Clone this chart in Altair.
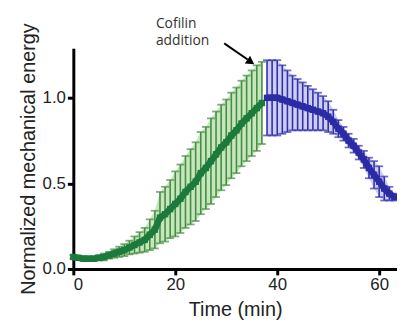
import altair as alt
import pandas as pd

# Before cofilin (green)
green_t = list(range(0, 38))
green_mean = [0.07, 0.065, 0.06, 0.06, 0.06, 0.065, 0.07, 0.08, 0.09, 0.10,
              0.11, 0.125, 0.14, 0.155, 0.17, 0.20, 0.23, 0.30, 0.32, 0.35,
              0.38, 0.41, 0.45, 0.48, 0.51, 0.56, 0.59, 0.63, 0.67, 0.71,
              0.74, 0.78, 0.81, 0.85, 0.88, 0.91, 0.94, 0.97]
green_sd = [0.01, 0.01, 0.01, 0.01, 0.01, 0.015, 0.02, 0.02, 0.025, 0.03,
            0.035, 0.04, 0.05, 0.06, 0.07, 0.09, 0.11, 0.15, 0.16, 0.17,
            0.19, 0.20, 0.21, 0.22, 0.23, 0.24, 0.24, 0.25, 0.25, 0.25,
            0.25, 0.25, 0.25, 0.25, 0.25, 0.25, 0.25, 0.24]

# After cofilin (blue)
blue_t = list(range(38, 64))
blue_mean = [1.0, 1.0, 1.0, 0.99, 0.98, 0.97, 0.96, 0.95, 0.94, 0.93,
             0.92, 0.91, 0.89, 0.86, 0.82, 0.79, 0.75, 0.72, 0.68, 0.64,
             0.59, 0.55, 0.51, 0.47, 0.44, 0.42]
blue_sd = [0.22, 0.22, 0.22, 0.20, 0.18, 0.16, 0.15, 0.14, 0.13, 0.12,
           0.11, 0.10, 0.09, 0.07, 0.05, 0.04, 0.04, 0.04, 0.04, 0.05,
           0.06, 0.08, 0.09, 0.07, 0.04, 0.02]

# Annotation
ann_text = [["Cofilin", "addition"]]
ann_x = [16.2]
ann_y = [1.41]
arrow_x = [29.6]
arrow_y = [1.318]
arrow_x2 = [34.2]
arrow_y2 = [1.224]
head_x = [34.6]
head_y = [1.214]

X_DOM = [0, 63.5]
Y_DOM = [0, 1.29]


def series(t, m, sd, line_col, bar_col, fill_col):
    df = pd.DataFrame({
        "t": t,
        "m": m,
        "lo": [a - b for a, b in zip(m, sd)],
        "hi": [a + b for a, b in zip(m, sd)],
    })
    base = alt.Chart(df)
    x = alt.X("t:Q", scale=alt.Scale(domain=X_DOM, nice=False, zero=False),
              axis=alt.Axis(values=[0, 20, 40, 60], title="Time (min)"))
    band = base.mark_area(color=fill_col, opacity=1).encode(
        x=x, y=alt.Y("lo:Q", scale=alt.Scale(domain=Y_DOM, nice=False),
                     axis=alt.Axis(values=[0, 0.5, 1.0], format=".1f",
                                   title="Normalized mechanical energy")),
        y2="hi:Q")
    rules = base.mark_rule(color=bar_col, strokeWidth=1.6).encode(
        x="t:Q", y="lo:Q", y2="hi:Q")
    cap_hi = base.mark_tick(color=bar_col, orient="horizontal", size=8,
                            thickness=1.8).encode(x="t:Q", y="hi:Q")
    cap_lo = base.mark_tick(color=bar_col, orient="horizontal", size=8,
                            thickness=1.8).encode(x="t:Q", y="lo:Q")
    line = base.mark_line(color=line_col, strokeWidth=6.5).encode(x="t:Q", y="m:Q")
    pts = base.mark_square(color=line_col, size=42, opacity=1).encode(
        x="t:Q", y="m:Q")
    return [band, rules, cap_hi, cap_lo, line, pts]


g_layers = series(green_t, green_mean, green_sd, "#1b7a3c", "#458c45", "#c6e6bc")
b_layers = series(blue_t, blue_mean, blue_sd, "#2b2ba6", "#2f2fb0", "#cdcdef")

ann_df = pd.DataFrame({"label": ann_text, "x": ann_x, "y": ann_y})
text = alt.Chart(ann_df).mark_text(
    align="left", baseline="alphabetic", font="Open Sans", fontSize=14,
    color="#333333", lineHeight=18, clip=False
).encode(x="x:Q", y="y:Q", text="label")

arr_df = pd.DataFrame({"x": arrow_x, "y": arrow_y, "x2": arrow_x2, "y2": arrow_y2})
arrow = alt.Chart(arr_df).mark_rule(color="black", strokeWidth=2, clip=False).encode(
    x="x:Q", y="y:Q", x2="x2:Q", y2="y2:Q")
head_df = pd.DataFrame({"x": head_x, "y": head_y})
head = alt.Chart(head_df).mark_point(
    shape="triangle", angle=124, size=90, filled=True, color="black",
    opacity=1, clip=False).encode(x="x:Q", y="y:Q")

chart = alt.layer(*g_layers, *b_layers, arrow, head, text).properties(
    width=327, height=223,
    autosize=alt.AutoSizeParams(type="none"),
    padding={"left": 66, "top": 39, "right": 0, "bottom": 55},
).configure_view(stroke=None).configure_axis(
    grid=False,
    domainColor="black", domainWidth=3,
    tickColor="black", tickWidth=3, tickSize=6,
    labelFont="Liberation Sans", labelFontSize=17, labelColor="#222222",
    titleFont="Liberation Sans", titleFontSize=20, titleFontWeight="normal",
    titleColor="#222222", labelPadding=2,
).configure_axisY(titlePadding=4).configure_axisX(titlePadding=7)

chart.save("out.html", embed_options={"renderer": "svg", "actions": False})
